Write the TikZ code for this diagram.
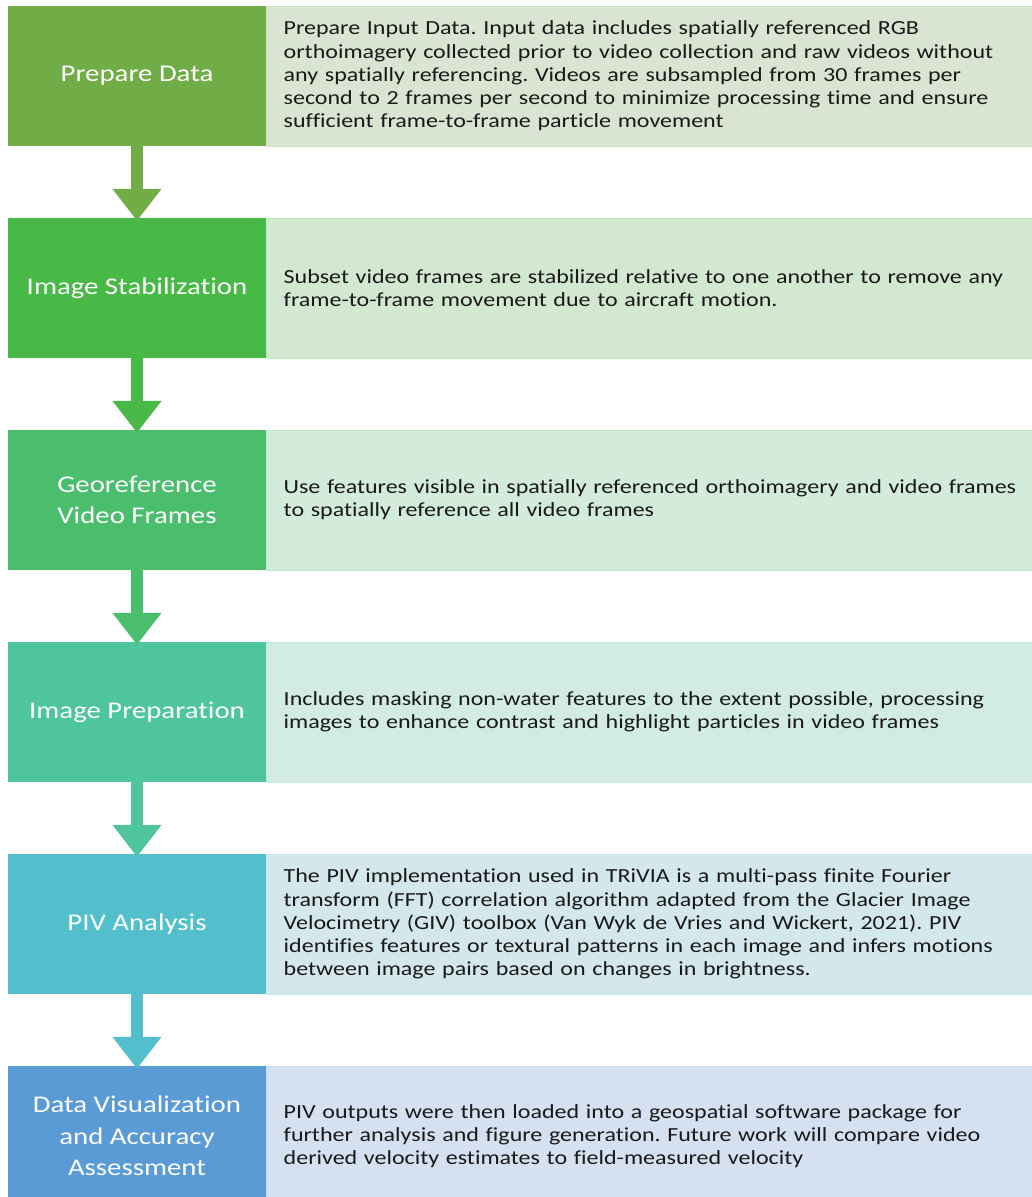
\documentclass[tikz,border=0pt]{standalone}
\usepackage{fontspec}
\setmainfont{Carlito}[FakeStretch=1.2, Ligatures=NoCommon]
\usetikzlibrary{arrows.meta,positioning}
\frenchspacing

\definecolor{stepA}{HTML}{70AD47}
\definecolor{stepB}{HTML}{48B946}
\definecolor{stepC}{HTML}{4BBE6E}
\definecolor{stepD}{HTML}{4EC59E}
\definecolor{stepE}{HTML}{53BFCD}
\definecolor{stepF}{HTML}{5B9BD5}
\definecolor{noteA}{HTML}{D9E5D2}
\definecolor{noteB}{HTML}{D3E8D1}
\definecolor{noteC}{HTML}{D3EBDA}
\definecolor{noteD}{HTML}{D3EBE5}
\definecolor{noteE}{HTML}{D4E7EC}
\definecolor{noteF}{HTML}{D5E0F0}

\begin{document}
\begin{tikzpicture}
  [x=1pt,y=-1pt,
   stagebox/.style={fill=#1, text=white, inner sep=0pt,
     minimum width=258pt, minimum height=140pt, align=center,
     font=\fontsize{24}{31.5}\selectfont},
   notebox/.style={fill=note#1, draw=step#1!35!white, line width=1pt,
     inner xsep=17pt, inner ysep=0pt, text width=733pt,
     minimum height=140pt, align=left, text=black!90,
     font=\fontsize{20}{23.2}\selectfont},
   flowarrow/.style={line width=12pt, -{Triangle[width=47pt,length=32pt]},
     shorten >=-3pt}]
  \useasboundingbox (0,0) rectangle (1032,1197);

  \node[stagebox=stepA] (s1) at (137,76)   {Prepare Data};
  \node[stagebox=stepB] (s2) at (137,288)  {Image Stabilization};
  \node[stagebox=stepC] (s3) at (137,500)  {Georeference\\Video Frames};
  \node[stagebox=stepD] (s4) at (137,712)  {Image Preparation};
  \node[stagebox=stepE] (s5) at (137,924)  {PIV Analysis};
  \node[stagebox=stepF] (s6) at (137,1136) {Data Visualization\\and Accuracy\\Assessment};

  \node[notebox=A, right=0pt of s1] (n1) {Prepare Input Data. Input data includes spatially referenced RGB\\
    orthoimagery collected prior to video collection and raw videos without\\
    any spatially referencing. Videos are subsampled from 30 frames per\\
    second to 2 frames per second to minimize processing time and ensure\\
    sufficient frame-to-frame particle movement};
  \node[notebox=B, right=0pt of s2] (n2) {Subset video frames are stabilized relative to one another to remove any\\
    frame-to-frame movement due to aircraft motion.};
  \node[notebox=C, right=0pt of s3] (n3) {Use features visible in spatially referenced orthoimagery and video frames\\
    to spatially reference all video frames};
  \node[notebox=D, right=0pt of s4] (n4) {Includes masking non-water features to the extent possible, processing\\
    images to enhance contrast and highlight particles in video frames};
  \node[notebox=E, right=0pt of s5] (n5) {The PIV implementation used in TRiVIA is a multi-pass finite Fourier\\
    transform (FFT) correlation algorithm adapted from the Glacier Image\\
    Velocimetry (GIV) toolbox (Van Wyk de Vries and Wickert, 2021). PIV\\
    identifies features or textural patterns in each image and infers motions\\
    between image pairs based on changes in brightness.};
  \node[notebox=F, right=0pt of s6] (n6) {PIV outputs were then loaded into a geospatial software package for\\
    further analysis and figure generation. Future work will compare video\\
    derived velocity estimates to field-measured velocity};

  \foreach \from/\to/\col in {s1/s2/stepA,s2/s3/stepB,s3/s4/stepC,s4/s5/stepD,s5/s6/stepE}
    \draw[flowarrow, \col] (\from.south) -- (\to.north);

\end{tikzpicture}
\end{document}
